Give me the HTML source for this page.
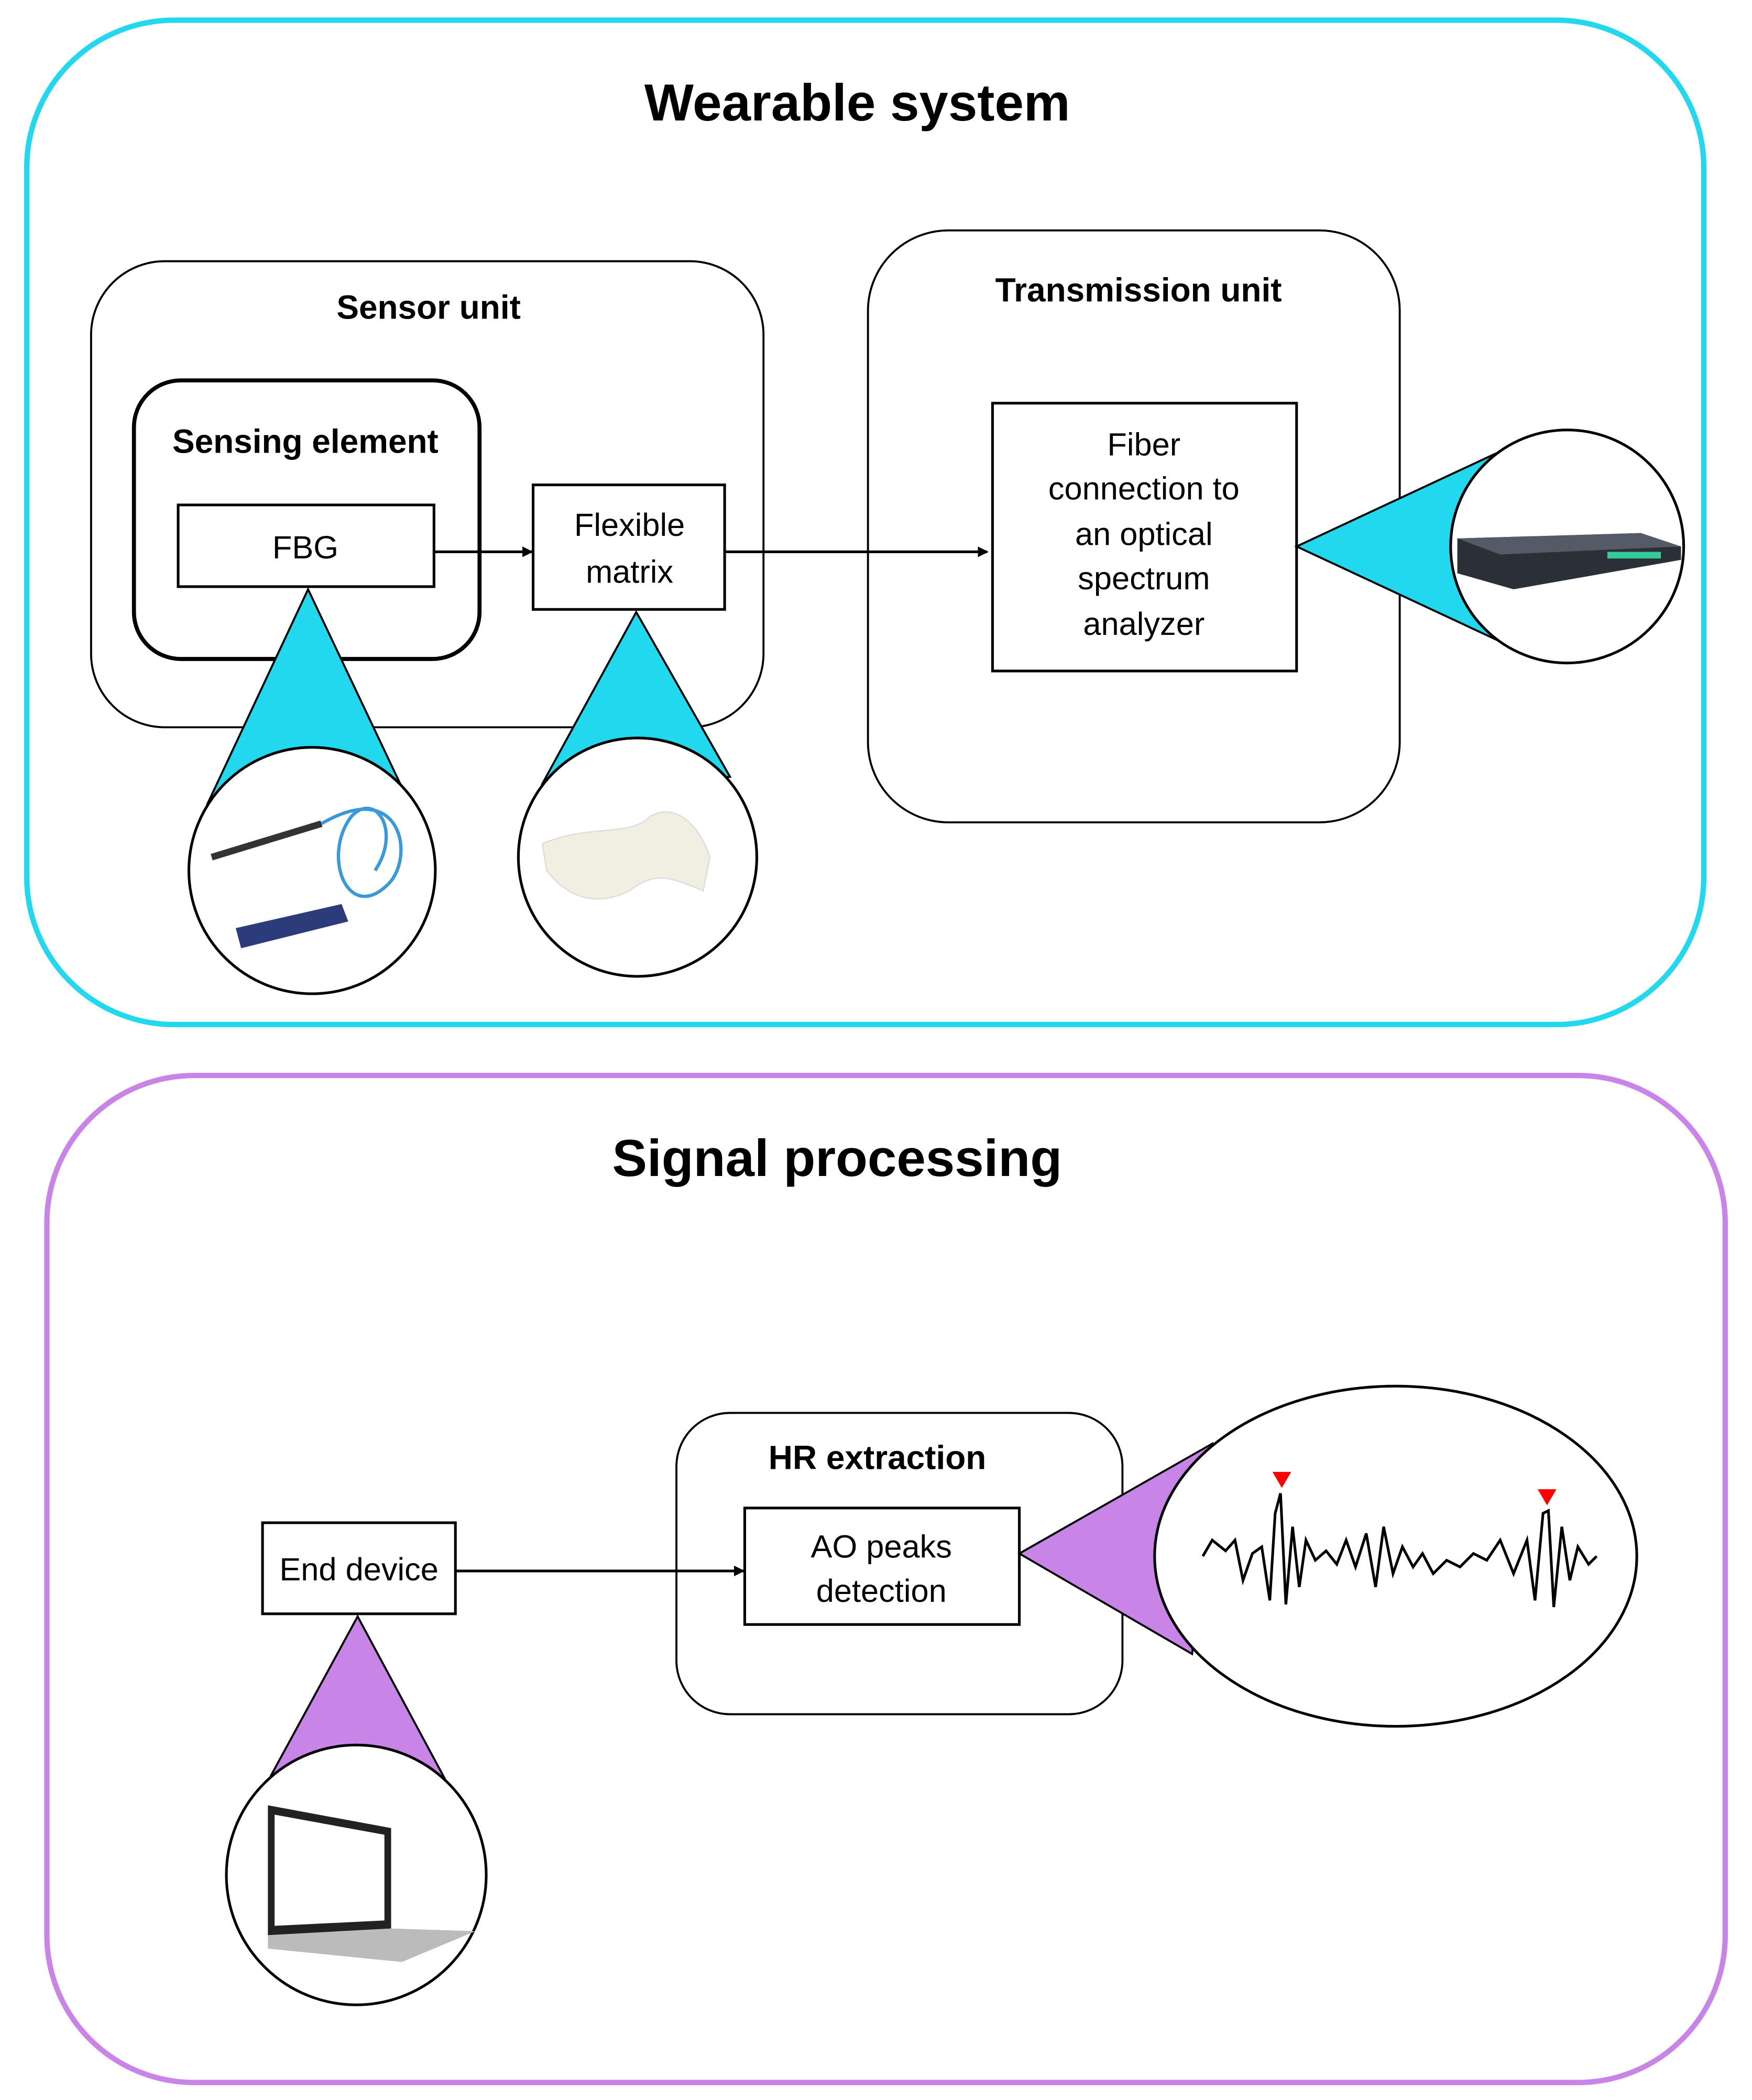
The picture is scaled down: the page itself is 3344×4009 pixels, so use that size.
<!DOCTYPE html>
<html><head><meta charset="utf-8"><style>html,body{margin:0;padding:0;background:#fff}svg{display:block}text{font-family:"Liberation Sans",sans-serif;fill:#000}</style></head>
<body>
<svg width="3344" height="4009" viewBox="0 0 1308 1568" xmlns="http://www.w3.org/2000/svg">
<defs><marker id="ar" markerWidth="8" markerHeight="8" refX="7" refY="4" orient="auto" markerUnits="userSpaceOnUse"><path d="M0,0 L8,4 L0,8 z" fill="#000"/></marker></defs>
<rect x="0" y="0" width="1308" height="1568" fill="#fff"/>
<!-- Wearable system -->
<rect x="20" y="15" width="1252" height="750" rx="110" fill="none" stroke="#22d8ee" stroke-width="4"/>
<text x="640" y="90" font-size="39" font-weight="bold" text-anchor="middle">Wearable system</text>
<rect x="68" y="195" width="502" height="348" rx="55" fill="#fff" stroke="#000" stroke-width="1.5"/>
<text x="320" y="238" font-size="25" font-weight="bold" text-anchor="middle">Sensor unit</text>
<rect x="100" y="284" width="258" height="208" rx="35" fill="#fff" stroke="#000" stroke-width="3"/>
<text x="228" y="338" font-size="25" font-weight="bold" text-anchor="middle">Sensing element</text>
<rect x="133" y="377" width="191" height="61" fill="#fff" stroke="#000" stroke-width="2"/>
<text x="228" y="417" font-size="24" text-anchor="middle">FBG</text>
<rect x="398" y="362" width="143" height="93" fill="#fff" stroke="#000" stroke-width="2"/>
<text x="470" y="400" font-size="24" text-anchor="middle">Flexible</text>
<text x="470" y="435" font-size="24" text-anchor="middle">matrix</text>
<line x1="324" y1="412" x2="397" y2="412" stroke="#000" stroke-width="2" marker-end="url(#ar)"/>
<rect x="648" y="172" width="397" height="442" rx="60" fill="#fff" stroke="#000" stroke-width="1.5"/>
<line x1="541" y1="412" x2="737" y2="412" stroke="#000" stroke-width="2" marker-end="url(#ar)"/>
<text x="850" y="225" font-size="25" font-weight="bold" text-anchor="middle">Transmission unit</text>
<rect x="741" y="301" width="227" height="200" fill="#fff" stroke="#000" stroke-width="2"/>
<g font-size="24" text-anchor="middle"><text x="854" y="340">Fiber</text><text x="854" y="373">connection to</text><text x="854" y="407">an optical</text><text x="854" y="440">spectrum</text><text x="854" y="474">analyzer</text></g>
<!-- callouts -->
<polygon points="968,408 1118,338 1118,478" fill="#22d8ee" stroke="#000" stroke-width="1.5"/>
<circle cx="1170" cy="408" r="87" fill="#fff" stroke="#000" stroke-width="2"/>
<polygon points="1088,402 1225,398 1255,408 1255,418 1130,440 1088,428" fill="#2a2f38"/>
<polygon points="1088,402 1225,398 1255,408 1120,414" fill="#555b66"/>
<rect x="1200" y="412" width="40" height="5" fill="#3c9"/>
<polygon points="230,440 155,600 302,592" fill="#22d8ee" stroke="#000" stroke-width="1.5"/>
<circle cx="233" cy="650" r="92" fill="#fff" stroke="#000" stroke-width="2"/>
<path d="M158,640 L240,615" stroke="#333" stroke-width="5"/>
<path d="M240,615 C300,580 310,640 290,660 C260,690 240,640 262,610 C280,590 300,620 280,650" fill="none" stroke="#3a9ad9" stroke-width="2.5"/>
<polygon points="176,693 255,675 260,688 180,708" fill="#2c3b7a"/>
<polygon points="475,457 405,585 545,580" fill="#22d8ee" stroke="#000" stroke-width="1.5"/>
<circle cx="476" cy="640" r="89" fill="#fff" stroke="#000" stroke-width="2"/>
<path d="M405,630 C440,615 470,625 485,610 C500,600 520,610 530,640 L525,665 C500,655 490,650 470,665 C440,680 420,665 408,650 Z" fill="#f1efe2" stroke="#ddd"/>
<!-- Signal processing -->
<rect x="35" y="803" width="1253" height="752" rx="110" fill="none" stroke="#c984e8" stroke-width="4"/>
<text x="625" y="878" font-size="39" font-weight="bold" text-anchor="middle">Signal processing</text>
<rect x="505" y="1055" width="333" height="225" rx="40" fill="#fff" stroke="#000" stroke-width="1.5"/>
<text x="655" y="1097" font-size="25" font-weight="bold" text-anchor="middle">HR extraction</text>
<rect x="556" y="1126" width="205" height="87" fill="#fff" stroke="#000" stroke-width="2"/>
<text x="658" y="1163" font-size="24" text-anchor="middle">AO peaks</text>
<text x="658" y="1196" font-size="24" text-anchor="middle">detection</text>
<rect x="196" y="1137" width="144" height="68" fill="#fff" stroke="#000" stroke-width="2"/>
<text x="268" y="1180" font-size="24" text-anchor="middle">End device</text>
<line x1="340" y1="1173" x2="555" y2="1173" stroke="#000" stroke-width="2" marker-end="url(#ar)"/>
<polygon points="761,1160 905,1078 890,1235" fill="#c984e8" stroke="#000" stroke-width="1.5"/>
<ellipse cx="1042" cy="1162" rx="180" ry="127" fill="#fff" stroke="#000" stroke-width="2"/>
<path d="M898,1162 L905,1150 L915,1158 L922,1150 L928,1180 L935,1160 L942,1155 L948,1195 L952,1130 L956,1115 L960,1198 L965,1140 L970,1185 L975,1150 L982,1165 L990,1158 L998,1168 L1005,1150 L1012,1170 L1020,1145 L1027,1185 L1033,1140 L1040,1175 L1047,1155 L1055,1170 L1062,1160 L1070,1175 L1080,1165 L1090,1170 L1100,1160 L1110,1165 L1120,1150 L1130,1175 L1140,1150 L1146,1195 L1152,1130 L1156,1128 L1160,1200 L1166,1140 L1172,1180 L1178,1155 L1186,1168 L1192,1162" fill="none" stroke="#000" stroke-width="2"/>
<polygon points="950,1099 964,1099 957,1111" fill="#f00"/>
<polygon points="1148,1112 1162,1112 1155,1124" fill="#f00"/>
<polygon points="267,1207 200,1330 332,1328" fill="#c984e8" stroke="#000" stroke-width="1.5"/>
<circle cx="266" cy="1400" r="97" fill="#fff" stroke="#000" stroke-width="2"/>
<polygon points="200,1348 292,1365 292,1440 200,1445" fill="#222"/>
<polygon points="205,1355 287,1370 287,1434 205,1438" fill="#fff"/>
<polygon points="200,1445 292,1440 355,1442 300,1465 200,1455" fill="#bbb"/>
</svg>
</body></html>
